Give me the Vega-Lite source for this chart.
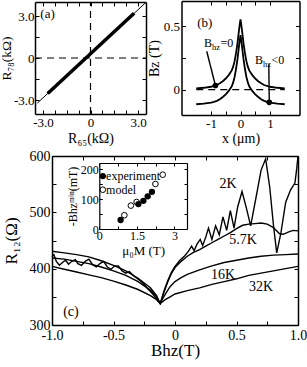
{
  "$schema": "https://vega.github.io/schema/vega-lite/v6.json",
  "width": 307,
  "height": 367,
  "autosize": "none",
  "padding": 0,
  "background": "white",
  "config": {
    "view": {"stroke": null},
    "axis": {
      "labelFont": "Liberation Serif", "titleFont": "Liberation Serif",
      "labelColor": "black", "titleColor": "black", "domainColor": "black", "tickColor": "black",
      "grid": false, "titleFontWeight": "normal", "tickSize": -4, "domainWidth": 1.5, "tickWidth": 1,
      "labelFontSize": 13, "titleFontSize": 14, "labelPadding": 6, "labelFlush": false, "labelOverlap": false
    },
    "text": {"font": "Liberation Serif", "fontSize": 13, "color": "black"}
  },
  "datasets": {
    "a_thin": [{"x": -3.35, "y": -3.22}, {"x": 3.5, "y": 3.975}],
    "a_thick": [{"x": -2.7, "y": -2.53}, {"x": 2.75, "y": 3.19}],
    "a_dash": [{"x": 0, "y": -4, "x2": 0, "y2": 4}, {"x": -3.5, "y": 0, "x2": 3.5, "y2": 0}],
    "a_lab": [{"x": -2.71, "y": 3.14, "t": "(a)"}],
    "b_curve": [
      {"c": "u", "x": -1.5, "y": 0.010}, {"c": "u", "x": -1.25, "y": 0.015}, {"c": "u", "x": -1.0, "y": 0.023}, {"c": "u", "x": -0.9, "y": 0.029},
      {"c": "u", "x": -0.8, "y": 0.037}, {"c": "u", "x": -0.7, "y": 0.050}, {"c": "u", "x": -0.6, "y": 0.067}, {"c": "u", "x": -0.5, "y": 0.088},
      {"c": "u", "x": -0.4, "y": 0.115}, {"c": "u", "x": -0.3, "y": 0.150}, {"c": "u", "x": -0.25, "y": 0.180}, {"c": "u", "x": -0.2, "y": 0.225},
      {"c": "u", "x": -0.15, "y": 0.290}, {"c": "u", "x": -0.1, "y": 0.370}, {"c": "u", "x": -0.075, "y": 0.420}, {"c": "u", "x": -0.05, "y": 0.470},
      {"c": "u", "x": -0.025, "y": 0.515}, {"c": "u", "x": 0, "y": 0.555},
      {"c": "u", "x": 0.025, "y": 0.515}, {"c": "u", "x": 0.05, "y": 0.470}, {"c": "u", "x": 0.075, "y": 0.420}, {"c": "u", "x": 0.1, "y": 0.370},
      {"c": "u", "x": 0.15, "y": 0.290}, {"c": "u", "x": 0.2, "y": 0.225}, {"c": "u", "x": 0.25, "y": 0.180}, {"c": "u", "x": 0.3, "y": 0.150},
      {"c": "u", "x": 0.4, "y": 0.115}, {"c": "u", "x": 0.5, "y": 0.088}, {"c": "u", "x": 0.6, "y": 0.067}, {"c": "u", "x": 0.7, "y": 0.050},
      {"c": "u", "x": 0.8, "y": 0.037}, {"c": "u", "x": 0.9, "y": 0.029}, {"c": "u", "x": 1.0, "y": 0.023}, {"c": "u", "x": 1.25, "y": 0.015},
      {"c": "u", "x": 1.5, "y": 0.010},
      {"c": "l", "x": -1.5, "y": -0.115}, {"c": "l", "x": -1.25, "y": -0.110}, {"c": "l", "x": -1.0, "y": -0.102}, {"c": "l", "x": -0.9, "y": -0.096},
      {"c": "l", "x": -0.8, "y": -0.088}, {"c": "l", "x": -0.7, "y": -0.075}, {"c": "l", "x": -0.6, "y": -0.058}, {"c": "l", "x": -0.5, "y": -0.037},
      {"c": "l", "x": -0.4, "y": -0.010}, {"c": "l", "x": -0.3, "y": 0.025}, {"c": "l", "x": -0.25, "y": 0.055}, {"c": "l", "x": -0.2, "y": 0.100},
      {"c": "l", "x": -0.15, "y": 0.165}, {"c": "l", "x": -0.1, "y": 0.245}, {"c": "l", "x": -0.075, "y": 0.295}, {"c": "l", "x": -0.05, "y": 0.345},
      {"c": "l", "x": -0.025, "y": 0.390}, {"c": "l", "x": 0, "y": 0.430},
      {"c": "l", "x": 0.025, "y": 0.390}, {"c": "l", "x": 0.05, "y": 0.345}, {"c": "l", "x": 0.075, "y": 0.295}, {"c": "l", "x": 0.1, "y": 0.245},
      {"c": "l", "x": 0.15, "y": 0.165}, {"c": "l", "x": 0.2, "y": 0.100}, {"c": "l", "x": 0.25, "y": 0.055}, {"c": "l", "x": 0.3, "y": 0.025},
      {"c": "l", "x": 0.4, "y": -0.010}, {"c": "l", "x": 0.5, "y": -0.037}, {"c": "l", "x": 0.6, "y": -0.058}, {"c": "l", "x": 0.7, "y": -0.075},
      {"c": "l", "x": 0.8, "y": -0.088}, {"c": "l", "x": 0.9, "y": -0.096}, {"c": "l", "x": 1.0, "y": -0.102}, {"c": "l", "x": 1.25, "y": -0.110},
      {"c": "l", "x": 1.5, "y": -0.115}
    ],
    "b_dash": [{"x": -1.5, "y": 0, "x2": 1.5, "y2": 0}],
    "b_ptr": [{"x": -1.145, "y": 0.303, "x2": -0.85, "y2": 0.033}, {"x": 0.96, "y": 0.2, "x2": 0.975, "y2": -0.1}],
    "b_dot": [{"x": -0.85, "y": 0.033}, {"x": 0.975, "y": -0.1}],
    "b_lab": [{"x": -1.24, "y": 0.368, "tail": "\u00a0=0"}, {"x": 0.49, "y": 0.232, "tail": "<0"}],
    "b_lab2": [{"x": -1.21, "y": 0.524, "t": "(b)"}],
    "c_curves": [
      {"T": "2K", "x": -1.0, "y": 421}, {"T": "2K", "x": -0.985, "y": 425}, {"T": "2K", "x": -0.965, "y": 413}, {"T": "2K", "x": -0.94, "y": 406},
      {"T": "2K", "x": -0.915, "y": 411}, {"T": "2K", "x": -0.89, "y": 415}, {"T": "2K", "x": -0.865, "y": 408}, {"T": "2K", "x": -0.84, "y": 413},
      {"T": "2K", "x": -0.81, "y": 416}, {"T": "2K", "x": -0.79, "y": 409}, {"T": "2K", "x": -0.76, "y": 406}, {"T": "2K", "x": -0.73, "y": 413},
      {"T": "2K", "x": -0.7, "y": 417}, {"T": "2K", "x": -0.67, "y": 407}, {"T": "2K", "x": -0.64, "y": 403}, {"T": "2K", "x": -0.61, "y": 409},
      {"T": "2K", "x": -0.58, "y": 413}, {"T": "2K", "x": -0.55, "y": 403}, {"T": "2K", "x": -0.52, "y": 399}, {"T": "2K", "x": -0.49, "y": 405},
      {"T": "2K", "x": -0.46, "y": 405}, {"T": "2K", "x": -0.43, "y": 396}, {"T": "2K", "x": -0.4, "y": 392}, {"T": "2K", "x": -0.37, "y": 395},
      {"T": "2K", "x": -0.34, "y": 388}, {"T": "2K", "x": -0.31, "y": 383}, {"T": "2K", "x": -0.28, "y": 378}, {"T": "2K", "x": -0.25, "y": 372},
      {"T": "2K", "x": -0.22, "y": 364}, {"T": "2K", "x": -0.19, "y": 357}, {"T": "2K", "x": -0.16, "y": 349}, {"T": "2K", "x": -0.12, "y": 338},
      {"T": "2K", "x": -0.09, "y": 360}, {"T": "2K", "x": -0.06, "y": 378}, {"T": "2K", "x": -0.03, "y": 393}, {"T": "2K", "x": 0.0, "y": 404},
      {"T": "2K", "x": 0.04, "y": 415}, {"T": "2K", "x": 0.08, "y": 423}, {"T": "2K", "x": 0.11, "y": 431}, {"T": "2K", "x": 0.135, "y": 440},
      {"T": "2K", "x": 0.155, "y": 432}, {"T": "2K", "x": 0.18, "y": 444}, {"T": "2K", "x": 0.205, "y": 452}, {"T": "2K", "x": 0.225, "y": 441},
      {"T": "2K", "x": 0.25, "y": 456}, {"T": "2K", "x": 0.272, "y": 472}, {"T": "2K", "x": 0.3, "y": 452}, {"T": "2K", "x": 0.33, "y": 476},
      {"T": "2K", "x": 0.36, "y": 460}, {"T": "2K", "x": 0.39, "y": 492}, {"T": "2K", "x": 0.42, "y": 468}, {"T": "2K", "x": 0.45, "y": 503},
      {"T": "2K", "x": 0.48, "y": 472}, {"T": "2K", "x": 0.51, "y": 510}, {"T": "2K", "x": 0.545, "y": 537}, {"T": "2K", "x": 0.58, "y": 508},
      {"T": "2K", "x": 0.615, "y": 476}, {"T": "2K", "x": 0.66, "y": 528}, {"T": "2K", "x": 0.7, "y": 575}, {"T": "2K", "x": 0.737, "y": 595},
      {"T": "2K", "x": 0.77, "y": 545}, {"T": "2K", "x": 0.8, "y": 478}, {"T": "2K", "x": 0.827, "y": 428}, {"T": "2K", "x": 0.86, "y": 462},
      {"T": "2K", "x": 0.9, "y": 518}, {"T": "2K", "x": 0.94, "y": 540}, {"T": "2K", "x": 0.975, "y": 552}, {"T": "2K", "x": 0.99, "y": 578},
      {"T": "2K", "x": 1.0, "y": 600},
      {"T": "5.7K", "x": -1.0, "y": 419}, {"T": "5.7K", "x": -0.9, "y": 417}, {"T": "5.7K", "x": -0.8, "y": 413}, {"T": "5.7K", "x": -0.7, "y": 409},
      {"T": "5.7K", "x": -0.6, "y": 403}, {"T": "5.7K", "x": -0.5, "y": 396}, {"T": "5.7K", "x": -0.4, "y": 388}, {"T": "5.7K", "x": -0.3, "y": 377},
      {"T": "5.7K", "x": -0.2, "y": 362}, {"T": "5.7K", "x": -0.15, "y": 350}, {"T": "5.7K", "x": -0.12, "y": 338}, {"T": "5.7K", "x": -0.09, "y": 358},
      {"T": "5.7K", "x": -0.06, "y": 376}, {"T": "5.7K", "x": -0.03, "y": 391}, {"T": "5.7K", "x": 0.0, "y": 402}, {"T": "5.7K", "x": 0.05, "y": 413},
      {"T": "5.7K", "x": 0.1, "y": 422}, {"T": "5.7K", "x": 0.15, "y": 429}, {"T": "5.7K", "x": 0.2, "y": 434}, {"T": "5.7K", "x": 0.25, "y": 440},
      {"T": "5.7K", "x": 0.3, "y": 446}, {"T": "5.7K", "x": 0.35, "y": 452}, {"T": "5.7K", "x": 0.4, "y": 458}, {"T": "5.7K", "x": 0.45, "y": 464},
      {"T": "5.7K", "x": 0.5, "y": 471}, {"T": "5.7K", "x": 0.55, "y": 477}, {"T": "5.7K", "x": 0.6, "y": 479}, {"T": "5.7K", "x": 0.65, "y": 480},
      {"T": "5.7K", "x": 0.7, "y": 481}, {"T": "5.7K", "x": 0.75, "y": 479}, {"T": "5.7K", "x": 0.8, "y": 473}, {"T": "5.7K", "x": 0.85, "y": 462},
      {"T": "5.7K", "x": 0.88, "y": 461}, {"T": "5.7K", "x": 0.92, "y": 465}, {"T": "5.7K", "x": 0.96, "y": 468}, {"T": "5.7K", "x": 1.0, "y": 467},
      {"T": "16K", "x": -1.0, "y": 431}, {"T": "16K", "x": -0.9, "y": 428}, {"T": "16K", "x": -0.8, "y": 425}, {"T": "16K", "x": -0.7, "y": 421},
      {"T": "16K", "x": -0.6, "y": 414}, {"T": "16K", "x": -0.5, "y": 406}, {"T": "16K", "x": -0.4, "y": 396}, {"T": "16K", "x": -0.3, "y": 383},
      {"T": "16K", "x": -0.2, "y": 366}, {"T": "16K", "x": -0.15, "y": 352}, {"T": "16K", "x": -0.12, "y": 338}, {"T": "16K", "x": -0.1, "y": 347},
      {"T": "16K", "x": -0.07, "y": 358}, {"T": "16K", "x": -0.04, "y": 368}, {"T": "16K", "x": 0.0, "y": 377}, {"T": "16K", "x": 0.05, "y": 384},
      {"T": "16K", "x": 0.1, "y": 390}, {"T": "16K", "x": 0.15, "y": 394}, {"T": "16K", "x": 0.2, "y": 398}, {"T": "16K", "x": 0.3, "y": 405},
      {"T": "16K", "x": 0.4, "y": 411}, {"T": "16K", "x": 0.5, "y": 415}, {"T": "16K", "x": 0.6, "y": 419}, {"T": "16K", "x": 0.7, "y": 422},
      {"T": "16K", "x": 0.8, "y": 424}, {"T": "16K", "x": 0.9, "y": 425}, {"T": "16K", "x": 1.0, "y": 426},
      {"T": "32K", "x": -1.0, "y": 404}, {"T": "32K", "x": -0.9, "y": 399}, {"T": "32K", "x": -0.8, "y": 394}, {"T": "32K", "x": -0.7, "y": 389},
      {"T": "32K", "x": -0.6, "y": 384}, {"T": "32K", "x": -0.5, "y": 378}, {"T": "32K", "x": -0.4, "y": 371}, {"T": "32K", "x": -0.3, "y": 363},
      {"T": "32K", "x": -0.2, "y": 352}, {"T": "32K", "x": -0.15, "y": 345}, {"T": "32K", "x": -0.12, "y": 338}, {"T": "32K", "x": -0.08, "y": 345},
      {"T": "32K", "x": -0.04, "y": 350}, {"T": "32K", "x": 0.0, "y": 355}, {"T": "32K", "x": 0.1, "y": 361}, {"T": "32K", "x": 0.2, "y": 366},
      {"T": "32K", "x": 0.3, "y": 372}, {"T": "32K", "x": 0.4, "y": 377}, {"T": "32K", "x": 0.5, "y": 382}, {"T": "32K", "x": 0.6, "y": 388},
      {"T": "32K", "x": 0.7, "y": 392}, {"T": "32K", "x": 0.8, "y": 396}, {"T": "32K", "x": 0.9, "y": 400}, {"T": "32K", "x": 1.0, "y": 404}
    ],
    "c_lab": [
      {"x": 0.431, "y": 551, "t": "2K"}, {"x": 0.553, "y": 451, "t": "5.7K"}, {"x": 0.39, "y": 389, "t": "16K"},
      {"x": 0.699, "y": 368, "t": "32K"}, {"x": -0.846, "y": 323, "t": "(c)"}
    ],
    "i_exp": [{"m": 0.85, "b": 30}, {"m": 1.56, "b": 83}, {"m": 1.76, "b": 94}, {"m": 1.93, "b": 109}, {"m": 2.1, "b": 124}],
    "i_mod": [{"m": 1.0, "b": 46}, {"m": 1.26, "b": 78}, {"m": 1.49, "b": 90}, {"m": 2.24, "b": 150}, {"m": 2.53, "b": 181}],
    "i_leg_exp": [{"m": 0.14, "b": 176.5}],
    "i_leg_mod": [{"m": 0.14, "b": 131}],
    "i_leg_txt": [{"m": 0.27, "b": 176.5, "t": "experiment"}, {"m": 0.27, "b": 131, "t": "model"}]
  },
  "layer": [
    {
      "layer": [
        {
          "data": {"name": "a_dash"},
          "mark": {"type": "rule", "strokeDash": [7, 5], "strokeWidth": 1.2, "color": "black"},
          "encoding": {
            "x": {"field": "x", "type": "quantitative", "scale": {"domain": [-3.5, 3.5], "range": [35, 146]},
              "axis": {"orient": "bottom", "offset": -253, "values": [-3, -2.25, -1.5, -0.75, 0, 0.75, 1.5, 2.25, 3],
                "labelExpr": "datum.value==-3?'-3.0':datum.value==3?'3.0':datum.value==0?'0':''", "title": "R₆₅(kΩ)", "titleFont": "Liberation Serif", "titlePadding": 2}},
            "y": {"field": "y", "type": "quantitative", "scale": {"domain": [-4, 4], "range": [114, 2]},
              "axis": {"orient": "left", "offset": -35, "values": [-3, -1.5, 0, 1.5, 3],
                "labelExpr": "datum.value==-3?'-3.0':datum.value==3?'3.0':datum.value==0?'0':''", "title": "R₇₈(kΩ)", "titleFont": "Liberation Serif", "titleFontSize": 13.5, "labelPadding": 5, "titlePadding": 0}},
            "x2": {"field": "x2"},
            "y2": {"field": "y2"}
          }
        },
        {
          "data": {"name": "a_thin"},
          "mark": {"type": "line", "strokeWidth": 1, "color": "black"},
          "encoding": {
            "x": {"field": "x", "type": "quantitative", "axis": {"orient": "top", "offset": -2, "values": [-3, -2.25, -1.5, -0.75, 0, 0.75, 1.5, 2.25, 3], "labels": false, "title": null}},
            "y": {"field": "y", "type": "quantitative", "axis": {"orient": "right", "offset": -161, "values": [-3, -1.5, 0, 1.5, 3], "labels": false, "title": null}}
          }
        },
        {
          "data": {"name": "a_thick"},
          "mark": {"type": "line", "strokeWidth": 3.5, "color": "black"},
          "encoding": {
            "x": {"field": "x", "type": "quantitative", "axis": null},
            "y": {"field": "y", "type": "quantitative", "axis": null}
          }
        },
        {
          "data": {"name": "a_lab"},
          "mark": {"type": "text", "fontSize": 13},
          "encoding": {
            "x": {"field": "x", "type": "quantitative", "axis": null},
            "y": {"field": "y", "type": "quantitative", "axis": null},
            "text": {"field": "t"}
          }
        }
      ],
      "resolve": {"axis": {"x": "independent", "y": "independent"}}
    },
    {
      "layer": [
        {
          "data": {"name": "b_dash"},
          "mark": {"type": "rule", "strokeDash": [7, 5], "strokeWidth": 1.2, "color": "black"},
          "encoding": {
            "x": {"field": "x", "type": "quantitative", "scale": {"domain": [-1.5, 1.5], "range": [181.5, 299.5]},
              "axis": {"orient": "bottom", "offset": -252, "values": [-1, -0.5, 0, 0.5, 1],
                "labelExpr": "datum.value==-1?'-1':datum.value==0?'0':datum.value==1?'1':''", "title": "x (μm)", "titleFont": "Liberation Serif", "titlePadding": 1}},
            "y": {"field": "y", "type": "quantitative", "scale": {"domain": [-0.125, 0.615], "range": [115, 1]},
              "axis": {"orient": "left", "offset": -181.5, "values": [0, 0.25, 0.5],
                "labelExpr": "datum.value==0?'0':datum.value==0.5?'0.5':''", "title": "Bz (T)", "titleFont": "Liberation Serif", "titlePadding": 2}},
            "x2": {"field": "x2"},
            "y2": {"field": "y2"}
          }
        },
        {
          "data": {"name": "b_curve"},
          "mark": {"type": "line", "strokeWidth": 1.8, "color": "black"},
          "encoding": {
            "x": {"field": "x", "type": "quantitative", "axis": {"orient": "top", "offset": -1, "values": [-1, -0.5, 0, 0.5, 1], "labels": false, "title": null}},
            "y": {"field": "y", "type": "quantitative", "axis": {"orient": "right", "offset": -7.5, "values": [0, 0.25, 0.5], "labels": false, "title": null}},
            "detail": {"field": "c"}
          }
        },
        {
          "data": {"name": "b_ptr"},
          "mark": {"type": "rule", "strokeWidth": 1.4, "color": "black"},
          "encoding": {
            "x": {"field": "x", "type": "quantitative", "axis": null},
            "y": {"field": "y", "type": "quantitative", "axis": null},
            "x2": {"field": "x2"},
            "y2": {"field": "y2"}
          }
        },
        {
          "data": {"name": "b_dot"},
          "mark": {"type": "circle", "size": 32, "color": "black", "opacity": 1},
          "encoding": {
            "x": {"field": "x", "type": "quantitative", "axis": null},
            "y": {"field": "y", "type": "quantitative", "axis": null}
          }
        },
        {
          "data": {"name": "b_lab"},
          "mark": {"type": "text", "fontSize": 12, "align": "left", "baseline": "middle"},
          "encoding": {
            "x": {"field": "x", "type": "quantitative", "axis": null},
            "y": {"field": "y", "type": "quantitative", "axis": null},
            "text": {"value": "B"}
          }
        },
        {
          "data": {"name": "b_lab"},
          "mark": {"type": "text", "fontSize": 8.5, "align": "left", "baseline": "middle", "dx": 8, "dy": 3.5},
          "encoding": {
            "x": {"field": "x", "type": "quantitative", "axis": null},
            "y": {"field": "y", "type": "quantitative", "axis": null},
            "text": {"value": "hz"}
          }
        },
        {
          "data": {"name": "b_lab"},
          "mark": {"type": "text", "fontSize": 12, "align": "left", "baseline": "middle", "dx": 16.5},
          "encoding": {
            "x": {"field": "x", "type": "quantitative", "axis": null},
            "y": {"field": "y", "type": "quantitative", "axis": null},
            "text": {"field": "tail"}
          }
        },
        {
          "data": {"name": "b_lab2"},
          "mark": {"type": "text", "fontSize": 13},
          "encoding": {
            "x": {"field": "x", "type": "quantitative", "axis": null},
            "y": {"field": "y", "type": "quantitative", "axis": null},
            "text": {"field": "t"}
          }
        }
      ],
      "resolve": {"axis": {"x": "independent", "y": "independent"}}
    },
    {
      "layer": [
        {
          "data": {"name": "c_curves"},
          "mark": {"type": "line", "strokeWidth": 1.4, "color": "black"},
          "encoding": {
            "x": {"field": "x", "type": "quantitative", "scale": {"domain": [-1, 1], "range": [52, 298]},
              "axis": {"orient": "bottom", "offset": -42, "values": [-1, -0.75, -0.5, -0.25, 0, 0.25, 0.5, 0.75, 1],
                "labelExpr": "datum.value==-1?'-1.0':datum.value==-0.5?'-0.5':datum.value==0?'0':datum.value==0.5?'0.5':datum.value==1?'1.0':''",
                "title": "Bhz(T)", "titleFont": "Liberation Serif", "labelFontSize": 14, "titleFontSize": 17, "labelPadding": 7, "titlePadding": 0}},
            "y": {"field": "y", "type": "quantitative", "scale": {"domain": [300, 600], "range": [325, 156]},
              "axis": {"orient": "left", "offset": -52, "values": [300, 350, 400, 450, 500, 550, 600],
                "labelExpr": "datum.value%100==0?datum.label:''", "title": "R₁₂(Ω)", "titleFont": "Liberation Serif", "labelFontSize": 14, "titleFontSize": 17, "titlePadding": 9}},
            "detail": {"field": "T"}
          }
        },
        {
          "data": {"name": "c_lab"},
          "mark": {"type": "text", "fontSize": 14},
          "encoding": {
            "x": {"field": "x", "type": "quantitative", "axis": {"orient": "top", "offset": -156, "values": [-1, -0.75, -0.5, -0.25, 0, 0.25, 0.5, 0.75, 1], "labels": false, "title": null}},
            "y": {"field": "y", "type": "quantitative", "axis": {"orient": "right", "offset": -9, "values": [300, 350, 400, 450, 500, 550, 600], "labels": false, "title": null}},
            "text": {"field": "t"}
          }
        }
      ],
      "resolve": {"axis": {"x": "independent", "y": "independent"}}
    },
    {
      "layer": [
        {
          "data": {"name": "i_exp"},
          "mark": {"type": "circle", "size": 40, "color": "black", "opacity": 1},
          "encoding": {
            "x": {"field": "m", "type": "quantitative", "scale": {"domain": [0, 3.07], "range": [99.3, 187]},
              "axis": {"orient": "bottom", "offset": -138, "values": [0, 0.75, 1.5, 2.25, 3], "tickSize": -3, "domainWidth": 1.2,
                "labelExpr": "datum.value==0?'0':datum.value==1.5?'1.5':datum.value==3?'3':''", "title": "μ₀M (T)", "titleFont": "Liberation Serif",
                "labelFontSize": 12, "titleFontSize": 13, "labelPadding": 4, "titlePadding": 3}},
            "y": {"field": "b", "type": "quantitative", "scale": {"domain": [0, 213], "range": [229, 163]},
              "axis": {"orient": "left", "offset": -99.3, "values": [0, 50, 100, 150, 200], "tickSize": -3, "domainWidth": 1.2,
                "labelExpr": "datum.value%100==0?datum.label:''", "title": "-Bhzᵐⁱⁿ(mT)", "titleFont": "Liberation Serif",
                "labelFontSize": 12, "titleFontSize": 12, "labelPadding": 4, "titlePadding": 1}}
          }
        },
        {
          "data": {"name": "i_mod"},
          "mark": {"type": "point", "size": 32, "color": "black", "filled": false, "strokeWidth": 1, "opacity": 1},
          "encoding": {
            "x": {"field": "m", "type": "quantitative", "axis": {"orient": "top", "offset": -163, "values": [0, 0.75, 1.5, 2.25, 3], "tickSize": -3, "domainWidth": 1.2, "labels": false, "title": null}},
            "y": {"field": "b", "type": "quantitative", "axis": {"orient": "right", "offset": -120, "values": [0, 50, 100, 150, 200], "tickSize": -3, "domainWidth": 1.2, "labels": false, "title": null}}
          }
        },
        {
          "data": {"name": "i_leg_exp"},
          "mark": {"type": "circle", "size": 40, "color": "black", "opacity": 1},
          "encoding": {
            "x": {"field": "m", "type": "quantitative", "axis": null},
            "y": {"field": "b", "type": "quantitative", "axis": null}
          }
        },
        {
          "data": {"name": "i_leg_mod"},
          "mark": {"type": "point", "size": 32, "color": "black", "filled": false, "strokeWidth": 1, "opacity": 1},
          "encoding": {
            "x": {"field": "m", "type": "quantitative", "axis": null},
            "y": {"field": "b", "type": "quantitative", "axis": null}
          }
        },
        {
          "data": {"name": "i_leg_txt"},
          "mark": {"type": "text", "fontSize": 12, "align": "left", "baseline": "middle"},
          "encoding": {
            "x": {"field": "m", "type": "quantitative", "axis": null},
            "y": {"field": "b", "type": "quantitative", "axis": null},
            "text": {"field": "t"}
          }
        }
      ],
      "resolve": {"axis": {"x": "independent", "y": "independent"}}
    }
  ],
  "resolve": {"scale": {"x": "independent", "y": "independent"}}
}
